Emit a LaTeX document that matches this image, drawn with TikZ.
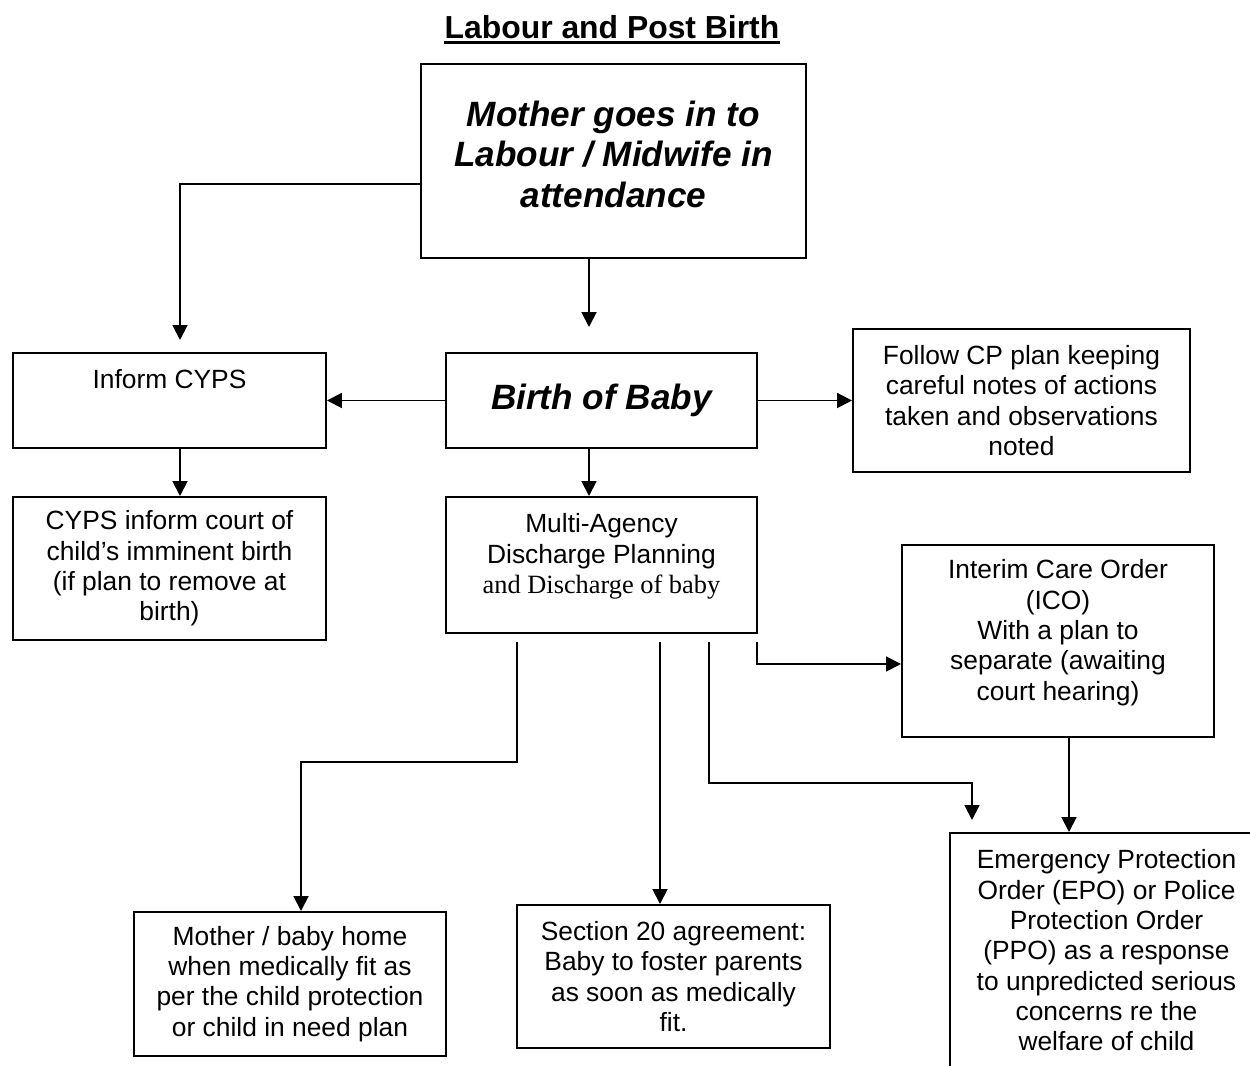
\documentclass[tikz,border=0pt]{standalone}
\usepackage{fontspec}
\setmainfont{Liberation Sans}
\newfontfamily\serifline{Liberation Serif}
\usetikzlibrary{arrows.meta,calc}

\newcommand{\pxs}{0.455pt}
\tikzset{
  box/.style={draw, line width=0.9pt, align=center, anchor=north west,
    inner sep=0pt, font=\fontsize{12}{13.8}\selectfont},
  boxsize/.style 2 args={minimum width=#1*\pxs, minimum height=#2*\pxs},
  toptext/.style={inner ysep=7.6pt, text depth=#1},
  bigtext/.style={font=\fontsize{16}{18.4}\selectfont\bfseries\itshape},
  arr/.style={line width=0.9pt, -{Triangle[length=6.8pt,width=6.8pt]}}
}

\begin{document}
\begin{tikzpicture}[x=\pxs, y=-\pxs]
    \useasboundingbox (0,0) rectangle (1250,1066);
    \clip (0,0) rectangle (1250,1066);
    % title
    \node[inner sep=0pt, font=\fontsize{14.5}{17}\selectfont\bfseries] (title) at (612,27) {Labour and Post Birth};
    \draw[line width=1.3pt] ([yshift=-1.9pt]title.base west) -- ([yshift=-1.9pt]title.base east);
    % boxes
    \node[box, boxsize={385}{194}, bigtext, text depth=6.4pt] (mother) at (420,63) {Mother goes in to\\Labour / Midwife in\\attendance};
    \node[box, boxsize={313}{95}, toptext=19.2pt] (inform) at (12,352) {Inform CYPS};
    \node[box, boxsize={311}{95}, bigtext] (birth) at (445,352) {Birth of Baby};
    \node[box, boxsize={337}{143}] (follow) at (852,328) {Follow CP plan keeping\\careful notes of actions\\taken and observations\\noted};
    \node[box, boxsize={313}{143}] (court) at (12,496) {CYPS inform court of\\child’s imminent birth\\(if plan to remove at\\birth)};
    \node[box, boxsize={311}{136}, toptext=10.3pt] (multi) at (445,496) {Multi-Agency\\Discharge Planning\\{\serifline and Discharge of baby}};
    \node[box, boxsize={312}{192}, text depth=10pt] (ico) at (901,544) {Interim Care Order\\(ICO)\\With a plan to\\separate (awaiting\\court hearing)};
    \node[box, boxsize={312}{144}] (home) at (133,911) {Mother / baby home\\when medically fit as\\per the child protection\\or child in need plan};
    \node[box, boxsize={313}{143}] (sect) at (516,904) {Section 20 agreement:\\Baby to foster parents\\as soon as medically\\fit.};
    \node[box, boxsize={313}{248}, toptext=6pt] (epo) at (949,832) {Emergency Protection\\Order (EPO) or Police\\Protection Order\\(PPO) as a response\\to unpredicted serious\\concerns re the\\welfare of child};
    % loose arrow ends
    \coordinate (informtop) at ($(inform.north west)+(168,-12)$);
    \coordinate (birthtop) at ($(birth.north west)+(144,-25)$);
    \coordinate (epotop) at ($(epo.north west)+(23,-12)$);
    % arrows
    \draw[arr] ($(mother.west)+(0,23)$) -| (informtop);
    \draw[arr] ($(mother.south west)+(169,0)$) -- (birthtop);
    \draw[arr] (birth.west) -- (inform.east);
    \draw[arr] (birth.east) -- (follow.west);
    \draw[arr] ($(inform.south west)+(168,0)$) -- ($(court.north west)+(168,0)$);
    \draw[arr] ($(birth.south west)+(144,0)$) -- ($(multi.north west)+(144,0)$);
    \draw[arr] ($(multi.south west)+(312,8)$) |- ($(ico.west)+(0,23)$);
    \draw[arr] ($(multi.south west)+(264,8)$) |- ($(epotop)+(0,-37)$) -- (epotop);
    \draw[arr] ($(ico.south west)+(168,0)$) -- ($(epo.north west)+(120,0)$);
    \draw[arr] ($(multi.south west)+(72,8)$) -- ++(0,120) -| ($(home.north west)+(168,0)$);
    \draw[arr] ($(multi.south west)+(215,8)$) -- ($(sect.north west)+(144,0)$);
\end{tikzpicture}
\end{document}
